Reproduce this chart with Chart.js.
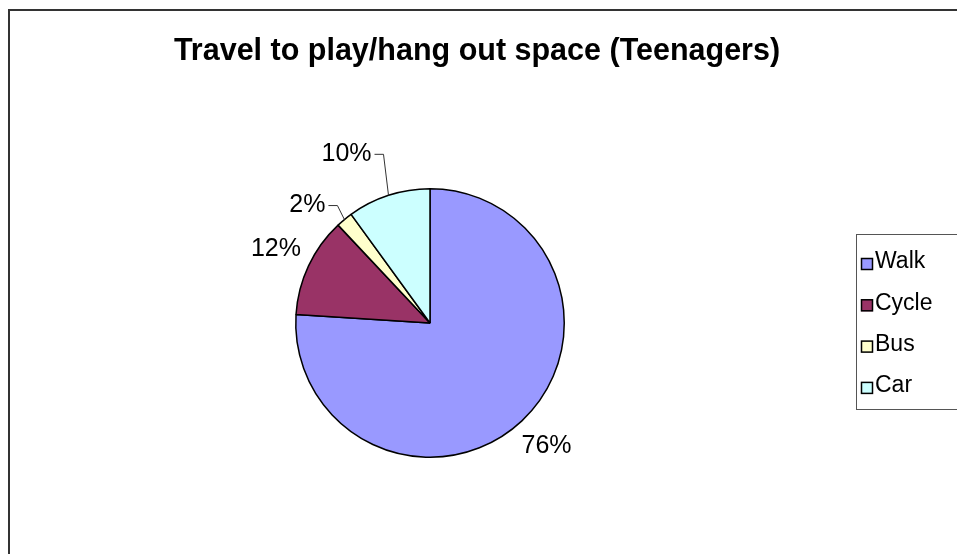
<!DOCTYPE html>
<html>
<head>
<meta charset="utf-8">
<title>Travel to play/hang out space (Teenagers)</title>
<script src="https://cdn.jsdelivr.net/npm/chart.js@4.4.1/dist/chart.umd.min.js"></script>
<style>
    html, body { margin: 0; padding: 0; background: #fff; }
    #wrap { width: 957px; height: 554px; position: relative; }
</style>
</head>
<body>
<div id="wrap"><canvas id="pieChart" width="957" height="554"></canvas></div>
<script>
// Data
const chartTitle = 'Travel to play/hang out space (Teenagers)';
const modes = ['Walk', 'Cycle', 'Bus', 'Car'];
const shares = [76, 12, 2, 10];
const sliceColors = ['#9999FF', '#993366', '#FFFFCC', '#CCFFFF'];

// Leader lines for the thin slices (elbow offset from slice edge), null = plain label
const leaderOffsets = [null, null, [-7, -14], [-5, -41]];
const labelGap = 36;

const FONT = 'Arial, "Liberation Sans", Helvetica, sans-serif';

// Outer frame, title and boxed legend
const framePlugin = {
    id: 'frame',
    beforeDraw(chart) {
        const ctx = chart.ctx;
        ctx.save();
        ctx.fillStyle = '#fff';
        ctx.fillRect(0, 0, chart.width, chart.height);
        ctx.strokeStyle = '#333';
        ctx.lineWidth = 2;
        ctx.strokeRect(9, 10, chart.width + 20, chart.height + 20);
        ctx.restore();
    },
    afterDraw(chart) {
        const ctx = chart.ctx;
        ctx.save();

        ctx.fillStyle = '#000';
        ctx.font = 'bold 30.5px ' + FONT;
        ctx.textAlign = 'center';
        ctx.textBaseline = 'middle';
        ctx.fillText(chartTitle, 477, 52);

        // legend box
        const boxLeft = 856.5, boxTop = 234.5, boxBottom = 409.5;
        ctx.strokeStyle = '#555';
        ctx.lineWidth = 1;
        ctx.strokeRect(boxLeft, boxTop, 200, boxBottom - boxTop);

        const ds = chart.data.datasets[0];
        ctx.font = '23px ' + FONT;
        ctx.textAlign = 'left';
        chart.data.labels.forEach((label, i) => {
            const cy = 262 + i * 41.3;
            ctx.fillStyle = ds.backgroundColor[i];
            ctx.fillRect(861, cy - 4, 12, 12);
            ctx.strokeStyle = '#000';
            ctx.lineWidth = 1.5;
            ctx.strokeRect(861.5, cy - 3.5, 11, 11);
            ctx.fillStyle = '#000';
            ctx.fillText(label, 875, cy);
        });
        ctx.restore();
    }
};

// Percentage labels, with leader lines where the slice is narrow
const pctLabelPlugin = {
    id: 'pctLabels',
    afterDatasetsDraw(chart) {
        const ctx = chart.ctx;
        const meta = chart.getDatasetMeta(0);
        const values = chart.data.datasets[0].data;
        const total = values.reduce((a, b) => a + b, 0);
        ctx.save();
        ctx.font = '25px ' + FONT;
        ctx.fillStyle = '#000';
        ctx.textBaseline = 'middle';
        meta.data.forEach((arc, i) => {
            const p = arc.getProps(['x', 'y', 'startAngle', 'endAngle', 'outerRadius'], true);
            const mid = (p.startAngle + p.endAngle) / 2;
            const dx = Math.cos(mid), dy = Math.sin(mid);
            const text = Math.round(values[i] / total * 100) + '%';
            const off = leaderOffsets[i];
            if (!off) {
                ctx.textAlign = 'center';
                ctx.fillText(text, p.x + dx * (p.outerRadius + labelGap), p.y + dy * (p.outerRadius + labelGap) - 1);
                return;
            }
            const ex = p.x + dx * p.outerRadius, ey = p.y + dy * p.outerRadius;
            const kx = ex + off[0], ky = ey + off[1];
            ctx.strokeStyle = '#333';
            ctx.lineWidth = 1;
            ctx.beginPath();
            ctx.moveTo(ex, ey);
            ctx.lineTo(kx, ky);
            ctx.lineTo(kx - 9, ky);
            ctx.stroke();
            ctx.textAlign = 'right';
            ctx.fillText(text, kx - 12, ky);
        });
        ctx.restore();
    }
};

new Chart(document.getElementById('pieChart'), {
    type: 'pie',
    data: {
        labels: modes,
        datasets: [{
            data: shares,
            backgroundColor: sliceColors,
            borderColor: '#000',
            borderWidth: 1.5
        }]
    },
    options: {
        responsive: false,
        animation: false,
        layout: { padding: { left: 295, right: 392, top: 188, bottom: 96 } },
        plugins: {
            legend: { display: false },
            tooltip: { enabled: false },
            title: { display: false }
        }
    },
    plugins: [framePlugin, pctLabelPlugin]
});
</script>
</body>
</html>
